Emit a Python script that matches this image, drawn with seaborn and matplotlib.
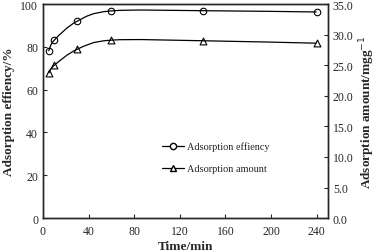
import numpy as np
import pandas as pd
import seaborn as sns
import matplotlib.pyplot as plt
from matplotlib.path import Path
from matplotlib.patches import PathPatch
from matplotlib.lines import Line2D
from matplotlib.ticker import FormatStrFormatter

time_min = [5, 10, 30, 60, 140, 240]
efficiency = [78.0, 83.2, 92.0, 96.8, 96.9, 96.3]
amount = [23.7, 25.0, 27.6, 29.1, 29.0, 28.6]


def smooth_path(ax, xs, ys):
    # excel-like smoothed line: bezier segments through the points
    pts = ax.transData.transform(np.column_stack([xs, ys]))
    n = len(pts)
    verts = [pts[0]]
    codes = [Path.MOVETO]
    for i in range(n - 1):
        p0 = pts[i - 1] if i > 0 else pts[i]
        p1, p2 = pts[i], pts[i + 1]
        p3 = pts[i + 2] if i + 2 < n else pts[i + 1]
        c1 = p1 + (p2 - p0) / 6.0
        c2 = p2 - (p3 - p1) / 6.0
        verts += [c1, c2, p2]
        codes += [Path.CURVE4] * 3
    return PathPatch(Path(verts, codes), fill=False, lw=0.9, color="black",
                     transform=None)


sns.set_style("ticks")
plt.rcParams['font.family'] = ['Liberation Serif', 'DejaVu Serif']
plt.rcParams['xtick.direction'] = 'in'
plt.rcParams['ytick.direction'] = 'in'

df = pd.DataFrame({"time": time_min, "eff": efficiency, "amt": amount})

fig = plt.figure(figsize=(3.77, 2.53), dpi=100)
ax = fig.add_axes([0.114, 0.134, 0.756, 0.846])
ax2 = ax.twinx()

ax.set_xlim(0, 250)
ax.set_ylim(0, 100)
ax2.set_ylim(0, 35)

sns.scatterplot(data=df, x="time", y="eff", ax=ax, marker="o", s=22,
                facecolor="white", edgecolor="black", linewidth=0.8, zorder=3)
sns.scatterplot(data=df, x="time", y="amt", ax=ax2, marker="^", s=24,
                facecolor="white", edgecolor="black", linewidth=0.8, zorder=3)

ax.set_xticks([0, 40, 80, 120, 160, 200, 240])
ax.set_yticks([0, 20, 40, 60, 80, 100])
ax2.set_yticks(np.arange(0, 36, 5))
ax2.yaxis.set_major_formatter(FormatStrFormatter('%.1f'))

for a in (ax, ax2):
    a.tick_params(labelsize=8.5, length=3, width=0.8)
    for s in a.spines.values():
        s.set_linewidth(1.0)
        s.set_visible(True)
ax.tick_params(axis="x", pad=5)

ax.set_xlabel("Time/min", fontsize=9.5, fontweight="bold", labelpad=2)
ax.set_ylabel("Adsorption effiency/%", fontsize=9.5, fontweight="bold", labelpad=4)
ax2.set_ylabel("Adsorption amount/mgg$^{-1}$", fontsize=9.5,
               fontweight="bold", labelpad=3)

fig.canvas.draw()
fig.add_artist(smooth_path(ax, time_min, efficiency))
fig.add_artist(smooth_path(ax2, time_min, amount))

handles = [
    Line2D([], [], color="black", lw=0.9, marker="o", ms=4.5, mfc="white", mec="black"),
    Line2D([], [], color="black", lw=0.9, marker="^", ms=5, mfc="white", mec="black"),
]
ax.legend(handles, ["Adsorption effiency", "Adsorption amount"], frameon=False,
          fontsize=7.4, loc="upper left", bbox_to_anchor=(0.385, 0.40),
          handlelength=2.1, labelspacing=1.25, handletextpad=0.3)

fig.savefig("out.png", dpi=100)
